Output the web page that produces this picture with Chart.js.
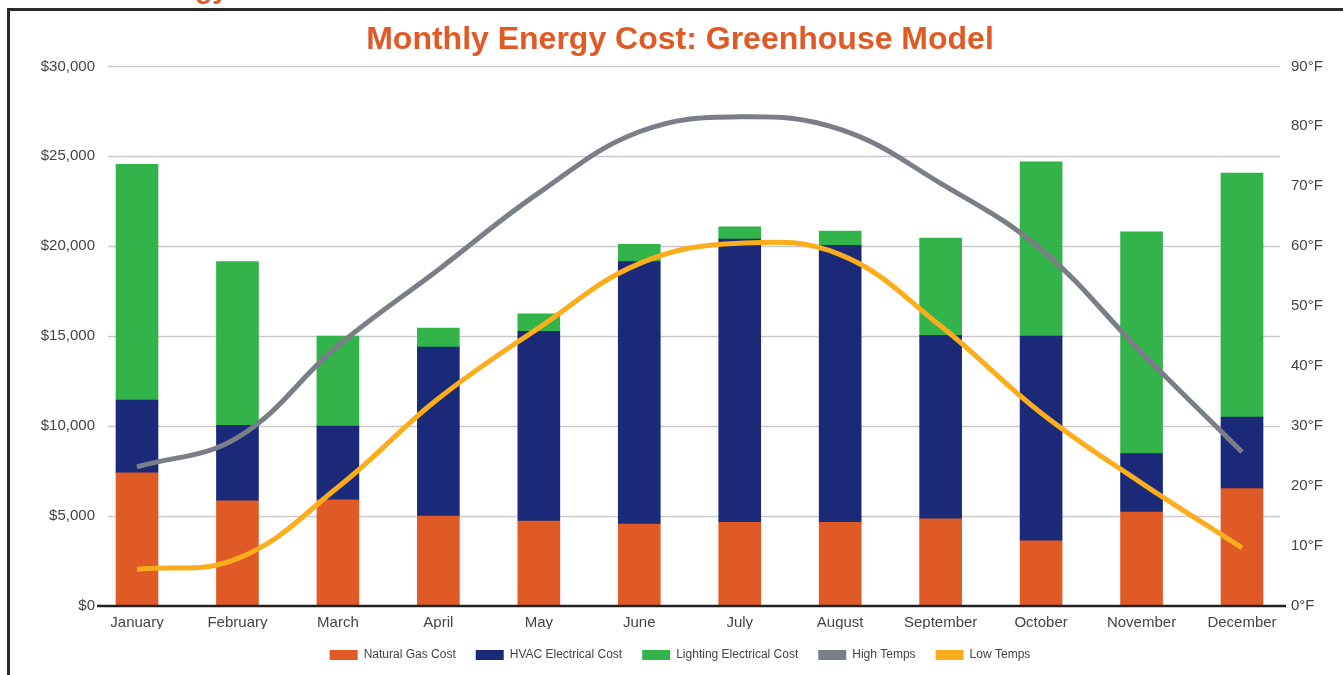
<!DOCTYPE html>
<html>
<head>
<meta charset="utf-8">
<title>Monthly Energy Cost: Greenhouse Model</title>
<script src="https://cdn.jsdelivr.net/npm/chart.js@4"></script>
<style>
    html, body {
        margin: 0;
        padding: 0;
        background: #fff;
        overflow: hidden;
    }
    #wrap {
        position: relative;
        width: 1343px;
        height: 675px;
    }
    /* frame of the page the chart was cut from */
    #frame {
        position: absolute;
        left: 7px;
        top: 8px;
        width: 1400px;
        height: 700px;
        border: 3px solid #2a2a2a;
    }
    /* heading above the frame, only its descenders show */
    #cut-heading {
        position: absolute;
        left: 133px;
        top: -25px;
        font: bold 28px/28px "Liberation Sans", Arial, sans-serif;
        color: #e05a26;
        white-space: nowrap;
    }
    #chart {
        position: absolute;
        left: 0;
        top: 0;
    }
</style>
</head>
<body>
<div id="wrap">
    <div id="frame"></div>
    <div id="cut-heading">Energy</div>
    <canvas id="chart" width="1343" height="675"></canvas>
</div>

<script>
"use strict"

// chart data
const months = ["January", "February", "March", "April", "May", "June",
    "July", "August", "September", "October", "November", "December"];

// costs in dollars, stacked
const gasCost = [7400, 5850, 5900, 5000, 4725, 4550, 4650, 4650, 4850, 3630, 5220, 6530];
const hvacCost = [4050, 4200, 4100, 9400, 10550, 14600, 15750, 15400, 10200, 11370, 3250, 3980];
const lightingCost = [13110, 9100, 5000, 1050, 970, 960, 680, 800, 5400, 9700, 12330, 13560];

// temperatures in °F
const highTemps = [23.2, 28.1, 43.4, 56.1, 68.9, 79.1, 81.6, 79.5, 70.5, 59.5, 42.3, 25.7];
const lowTemps = [6.1, 7.9, 19.8, 34.6, 46.4, 57.1, 60.5, 58.6, 46.7, 32.2, 20.5, 9.7];

const costTicks = [0, 5000, 10000, 15000, 20000, 25000, 30000];

const orange = "#e05a26";
const navy = "#1a2a78";
const green = "#33b44a";
const grey = "#7a7e87";
const yellow = "#fbad1b";
const textCol = "#444";
const fontFamily = "'Liberation Sans', Arial, Helvetica, sans-serif";


// gridlines and base line run past the first and last month
const gridLines = {
    id: "gridLines",
    beforeDatasetsDraw(chart) {
        const {ctx, chartArea, scales} = chart;
        ctx.save();
        ctx.strokeStyle = "#c9c9c9";
        ctx.lineWidth = 1.5;
        scales.y.ticks.forEach(t => {
            if (t.value === 0) {
                return;
            }
            const y = Math.round(scales.y.getPixelForValue(t.value)) + 0.5;
            ctx.beginPath();
            ctx.moveTo(chartArea.left - 29, y);
            ctx.lineTo(chartArea.right + 38, y);
            ctx.stroke();
        });
        ctx.restore();
    },
    afterDatasetsDraw(chart) {
        const {ctx, chartArea, scales} = chart;
        const y = scales.y.getPixelForValue(0);
        ctx.save();
        ctx.strokeStyle = "#222";
        ctx.lineWidth = 2.5;
        ctx.beginPath();
        ctx.moveTo(chartArea.left - 40, y);
        ctx.lineTo(chartArea.right + 44, y);
        ctx.stroke();
        ctx.restore();
    }
};


function barSet(label, values, colour) {
    return {
        type: "bar",
        label: label,
        data: values,
        backgroundColor: colour,
        borderWidth: 0,
        stack: "cost",
        yAxisID: "y",
        barThickness: 42,
        clip: false,
        order: 2
    };
}

function lineSet(label, values, colour) {
    return {
        type: "line",
        label: label,
        data: values,
        borderColor: colour,
        backgroundColor: colour,
        borderWidth: 5,
        pointRadius: 0,
        tension: 0.4,
        fill: false,
        clip: false,
        yAxisID: "temp",
        order: 1
    };
}


let data = {
    labels: months,
    datasets: [
        barSet("Natural Gas Cost", gasCost, orange),
        barSet("HVAC Electrical Cost", hvacCost, navy),
        barSet("Lighting Electrical Cost", lightingCost, green),
        lineSet("High Temps", highTemps, grey),
        lineSet("Low Temps", lowTemps, yellow)
    ]
};

let config = {
    type: "bar",
    data: data,
    plugins: [gridLines],
    options: {
        responsive: false,
        animation: false,
        devicePixelRatio: 1,
        layout: {
            padding: {left: 17, right: 0, top: 0, bottom: 4}
        },
        plugins: {
            title: {
                display: true,
                text: "Monthly Energy Cost: Greenhouse Model",
                color: orange,
                font: {family: fontFamily, size: 32, weight: "bold"},
                padding: {top: 21, bottom: 7}
            },
            legend: {
                position: "bottom",
                labels: {
                    color: textCol,
                    font: {family: fontFamily, size: 12},
                    boxWidth: 28,
                    boxHeight: 10,
                    padding: 20,
                    sort: (a, b) => a.datasetIndex - b.datasetIndex,
                    generateLabels(chart) {
                        const items = Chart.defaults.plugins.legend.labels.generateLabels(chart);
                        items.forEach(i => {
                            i.lineWidth = 0;
                        });
                        return items;
                    }
                }
            },
            tooltip: {enabled: false}
        },
        scales: {
            x: {
                stacked: true,
                offset: false,
                grid: {display: false, drawTicks: false},
                border: {display: false},
                afterFit(scale) {
                    scale.height = 23;
                },
                ticks: {
                    color: textCol,
                    font: {family: fontFamily, size: 15},
                    padding: 8,
                    maxRotation: 0,
                    autoSkip: false
                }
            },
            y: {
                position: "left",
                stacked: true,
                min: 0,
                max: 30000,
                grid: {display: false, drawTicks: false},
                border: {display: false},
                afterBuildTicks(scale) {
                    scale.ticks = costTicks.map(v => ({value: v}));
                },
                afterFit(scale) {
                    scale.width = 120;
                },
                ticks: {
                    color: textCol,
                    font: {family: fontFamily, size: 15},
                    padding: 42,
                    callback: v => "$" + v.toLocaleString("en-US")
                }
            },
            temp: {
                position: "right",
                min: 0,
                max: 90,
                grid: {display: false, drawTicks: false},
                border: {display: false},
                afterFit(scale) {
                    scale.width = 101;
                },
                ticks: {
                    stepSize: 10,
                    color: textCol,
                    font: {family: fontFamily, size: 15},
                    padding: 49,
                    callback: v => v + "°F"
                }
            }
        }
    }
};

let ctx = document.querySelector("#chart");
let energyChart = new Chart(ctx, config);
</script>
</body>
</html>
